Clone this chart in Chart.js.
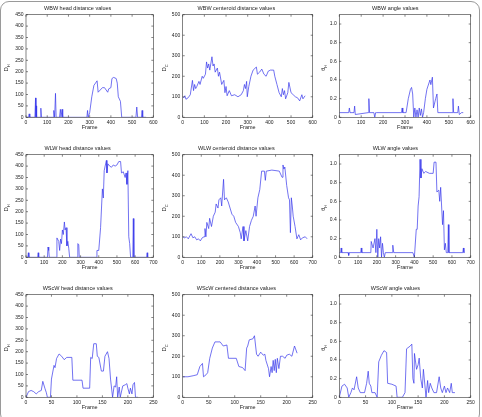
<!DOCTYPE html>
<html>
<head>
<meta charset="utf-8">
<script src="https://cdn.jsdelivr.net/npm/chart.js@4.4.1/dist/chart.umd.min.js"></script>
<style>
  body { margin: 0; background: #fff; }
  #wrap { position: relative; width: 482px; height: 417px; overflow: hidden; }
  #frame { position: absolute; left: 0; top: 1px; width: 478px; height: 420px; border: 1px solid #9a9a9a; border-radius: 9px; }
  canvas { position: absolute; }
</style>
</head>
<body>
<div id="wrap">
  <div id="frame"></div>
  <canvas id="c1" width="160" height="140" style="left:0;top:0"></canvas>
  <canvas id="c2" width="160" height="140" style="left:160px;top:0"></canvas>
  <canvas id="c3" width="162" height="140" style="left:320px;top:0"></canvas>
  <canvas id="c4" width="160" height="140" style="left:0;top:140px"></canvas>
  <canvas id="c5" width="160" height="140" style="left:160px;top:140px"></canvas>
  <canvas id="c6" width="162" height="140" style="left:320px;top:140px"></canvas>
  <canvas id="c7" width="160" height="140" style="left:0;top:280px"></canvas>
  <canvas id="c8" width="160" height="140" style="left:160px;top:280px"></canvas>
  <canvas id="c9" width="162" height="140" style="left:320px;top:280px"></canvas>
</div>
<script>
// WBW row
const wbwHeadFrames = [0, 12, 15, 18, 42, 45, 47, 48, 50, 67, 70, 73, 128, 131, 135, 139, 142, 158, 162, 165, 168, 170, 173, 287, 290, 293, 300, 310, 320, 335, 340, 345, 360, 370, 385, 390, 400, 405, 413, 425, 430, 435, 445, 451, 518, 522, 526, 544, 547, 550, 566];
const wbwHeadValues = [0, 0, 15, 0, 0, 85, 0, 50, 0, 0, 40, 0, 0, 30, 0, 105, 0, 0, 35, 0, 0, 35, 0, 0, 30, 0, 20, 90, 140, 160, 110, 115, 130, 130, 110, 125, 130, 170, 175, 170, 150, 90, 70, 0, 0, 45, 0, 0, 30, 0, 0];

const wbwCentFrames = [0, 5, 10, 15, 25, 35, 45, 50, 55, 60, 65, 75, 80, 90, 95, 105, 110, 115, 120, 125, 135, 140, 145, 150, 160, 165, 170, 180, 190, 195, 200, 205, 215, 225, 240, 255, 270, 280, 285, 290, 295, 298, 305, 315, 325, 340, 345, 355, 365, 375, 385, 395, 405, 420, 425, 435, 445, 455, 460, 465, 470, 475, 485, 490, 500, 510, 520, 530, 540, 550, 555, 565];
const wbwCentValues = [100, 95, 105, 88, 95, 110, 180, 130, 160, 140, 150, 175, 160, 200, 190, 210, 270, 240, 260, 230, 295, 250, 260, 220, 240, 200, 220, 160, 180, 120, 150, 105, 130, 105, 110, 100, 110, 130, 160, 140, 175, 100, 150, 200, 230, 245, 210, 220, 235, 210, 200, 225, 230, 230, 200, 160, 120, 100, 140, 110, 130, 90, 120, 170, 120, 110, 100, 95, 80, 110, 90, 105];

const wbwAngleFrames = [0, 43, 46, 49, 67, 70, 73, 132, 135, 138, 158, 162, 166, 170, 284, 287, 290, 305, 315, 325, 330, 335, 340, 345, 350, 355, 360, 365, 370, 375, 380, 385, 393, 400, 414, 418, 425, 430, 440, 446, 450, 516, 519, 522, 541, 544, 548, 558, 566];
const wbwAngleValues = [0.05, 0.05, 0.1, 0.05, 0.05, 0.12, 0.03, 0.05, 0.2, 0.05, 0.05, 0.0, 0.05, 0.05, 0.05, 0.1, 0.05, 0.05, 0.2, 0.3, 0.32, 0.25, 0.0, 0.1, 0.0, 0.08, 0.0, 0.1, 0.02, 0.09, 0.0, 0.05, 0.2, 0.3, 0.4, 0.35, 0.43, 0.1, 0.2, 0.25, 0.05, 0.05, 0.2, 0.05, 0.05, 0.12, 0.03, 0.05, 0.05];

// WLW row
const wlwHeadFrames = [0, 10, 13, 16, 64, 67, 70, 118, 121, 125, 128, 168, 170, 180, 185, 190, 195, 200, 205, 211, 215, 220, 225, 230, 235, 240, 282, 285, 290, 293, 388, 390, 400, 410, 420, 425, 430, 435, 442, 445, 450, 460, 470, 480, 490, 500, 510, 520, 525, 535, 545, 550, 555, 560, 565, 570, 575, 587, 590, 593, 663, 666, 669, 672];
const wlwHeadValues = [0, 0, 20, 0, 0, 20, 0, 0, 45, 30, 0, 0, 85, 70, 30, 80, 60, 120, 100, 155, 120, 130, 50, 70, 40, 0, 0, 60, 55, 0, 0, 30, 30, 130, 300, 260, 380, 400, 425, 370, 410, 400, 395, 405, 400, 405, 420, 420, 370, 375, 350, 370, 320, 380, 90, 60, 0, 0, 170, 0, 0, 20, 0, 0];

const wlwCentFrames = [0, 10, 20, 30, 45, 55, 65, 75, 85, 95, 105, 115, 120, 125, 130, 140, 145, 155, 165, 175, 180, 190, 195, 205, 210, 220, 225, 235, 245, 255, 265, 275, 285, 300, 310, 315, 325, 330, 340, 350, 360, 370, 380, 390, 395, 405, 415, 425, 440, 445, 450, 480, 520, 535, 540, 545, 550, 560, 570, 575, 580, 585, 590, 595, 605, 615, 625, 635, 645, 660, 670];
const wlwCentValues = [100, 95, 100, 90, 115, 95, 100, 85, 90, 80, 95, 100, 140, 100, 170, 140, 190, 150, 200, 220, 260, 240, 280, 290, 250, 380, 280, 290, 270, 240, 210, 200, 170, 150, 120, 90, 150, 80, 130, 80, 150, 180, 200, 250, 200, 290, 330, 420, 420, 375, 420, 425, 420, 390, 450, 430, 440, 350, 290, 280, 120, 290, 250, 200, 150, 90, 110, 85, 95, 100, 90];

const wlwAngleFrames = [0, 7, 10, 13, 47, 50, 53, 114, 117, 120, 168, 170, 180, 190, 195, 200, 205, 210, 215, 220, 225, 230, 235, 240, 245, 282, 285, 290, 392, 400, 410, 415, 420, 425, 430, 435, 440, 450, 460, 480, 500, 505, 515, 520, 530, 535, 540, 545, 550, 555, 560, 565, 570, 578, 581, 584, 658, 661, 664, 666];
const wlwAngleValues = [0.05, 0.05, 0.1, 0.05, 0.05, 0.02, 0.05, 0.05, 0.1, 0.05, 0.05, 0.17, 0.1, 0.2, 0.05, 0.3, 0.0, 0.2, 0.1, 0.22, 0.0, 0.15, 0.05, 0.0, 0.05, 0.05, 0.13, 0.05, 0.05, 0.0, 0.3, 0.3, 0.55, 0.65, 1.05, 0.85, 0.95, 0.9, 0.92, 0.9, 0.9, 1.02, 1.02, 0.7, 0.72, 0.6, 0.75, 0.55, 0.35, 0.5, 0.08, 0.15, 0.05, 0.05, 0.35, 0.05, 0.05, 0.1, 0.05, 0.05];

// WScW row
const wscwHeadFrames = [0, 5, 10, 15, 20, 25, 30, 33, 37, 40, 42, 48, 50, 55, 57, 60, 65, 70, 75, 80, 90, 92, 110, 112, 125, 127, 130, 133, 138, 140, 143, 148, 152, 155, 160, 163, 166, 170, 173, 176, 178, 180, 183, 185, 190, 195, 198, 200, 203, 205, 208, 210, 213, 215, 220];
const wscwHeadValues = [0, 25, 30, 25, 15, 25, 30, 70, 40, 20, 0, 0, 80, 140, 130, 170, 190, 180, 165, 175, 175, 75, 75, 40, 40, 175, 170, 235, 235, 180, 175, 115, 115, 180, 200, 170, 80, 0, 50, 45, 90, 0, 45, 0, 50, 55, 60, 40, 15, 40, 15, 55, 65, 0, 0];

const wscwCentFrames = [0, 10, 20, 28, 33, 38, 40, 45, 48, 52, 57, 62, 72, 78, 85, 88, 103, 108, 115, 120, 123, 125, 128, 135, 138, 142, 145, 150, 155, 158, 160, 165, 167, 170, 172, 174, 176, 178, 180, 182, 185, 188, 192, 197, 200, 205, 210, 215, 220];
const wscwCentValues = [100, 100, 105, 110, 150, 165, 100, 110, 120, 190, 240, 270, 270, 250, 255, 190, 190, 150, 145, 130, 240, 250, 280, 285, 300, 210, 200, 220, 205, 210, 180, 140, 100, 150, 120, 180, 130, 185, 120, 190, 140, 200, 200, 190, 205, 210, 200, 250, 215];

const wscwAngleFrames = [0, 5, 10, 15, 18, 22, 25, 28, 33, 36, 40, 48, 52, 55, 57, 60, 62, 68, 72, 75, 80, 85, 90, 92, 100, 108, 110, 120, 125, 128, 135, 138, 140, 142, 143, 147, 150, 152, 155, 158, 160, 165, 168, 170, 173, 176, 180, 185, 190, 193, 196, 200, 203, 206, 210, 213, 215, 220];
const wscwAngleValues = [0.0, 0.12, 0.14, 0.1, 0.0, 0.05, 0.1, 0.08, 0.22, 0.1, 0.05, 0.05, 0.15, 0.28, 0.15, 0.12, 0.05, 0.05, 0.0, 0.38, 0.45, 0.5, 0.48, 0.15, 0.14, 0.12, 0.0, 0.0, 0.05, 0.52, 0.55, 0.57, 0.2, 0.15, 0.47, 0.3, 0.35, 0.42, 0.2, 0.1, 0.3, 0.0, 0.18, 0.05, 0.15, 0.1, 0.05, 0.05, 0.22, 0.1, 0.05, 0.12, 0.05, 0.1, 0.05, 0.15, 0.05, 0.05];

const titles = [
  'WBW head distance values', 'WBW centeroid distance values', 'WBW angle values',
  'WLW head distance values', 'WLW centeroid distance values', 'WLW angle values',
  'WScW head distance values', 'WScW centered distance values', 'WScW angle values'
];

Chart.defaults.font.family = '"Liberation Sans", Arial, sans-serif';
Chart.defaults.color = '#222';

// box round the plot with inward ticks, plus the y label with a subscript
const boxPlugin = {
  id: 'box',
  afterDraw(chart, args, opts) {
    const { ctx, chartArea: a, scales } = chart;
    ctx.save();
    ctx.strokeStyle = '#333';
    ctx.lineWidth = 0.6;
    ctx.strokeRect(a.left, a.top, a.right - a.left, a.bottom - a.top);
    ctx.beginPath();
    scales.x.ticks.forEach(t => {
      const px = scales.x.getPixelForValue(t.value);
      ctx.moveTo(px, a.bottom); ctx.lineTo(px, a.bottom - 2);
      ctx.moveTo(px, a.top); ctx.lineTo(px, a.top + 2);
    });
    scales.y.ticks.forEach(t => {
      const py = scales.y.getPixelForValue(t.value);
      ctx.moveTo(a.left, py); ctx.lineTo(a.left + 2, py);
      ctx.moveTo(a.right, py); ctx.lineTo(a.right - 2, py);
    });
    ctx.stroke();

    ctx.translate(opts.labelX, (a.top + a.bottom) / 2 + 2);
    ctx.rotate(-Math.PI / 2);
    ctx.fillStyle = '#222';
    ctx.textBaseline = 'alphabetic';
    ctx.textAlign = 'left';
    ctx.font = '6px "Liberation Sans", Arial, sans-serif';
    const w1 = ctx.measureText(opts.main).width;
    ctx.font = '4px "Liberation Sans", Arial, sans-serif';
    const w2 = ctx.measureText(opts.sub).width;
    const x0 = -(w1 + w2) / 2;
    ctx.font = '6px "Liberation Sans", Arial, sans-serif';
    ctx.fillText(opts.main, x0, 0);
    ctx.font = '4px "Liberation Sans", Arial, sans-serif';
    ctx.fillText(opts.sub, x0 + w1, 1.5);
    ctx.restore();
  }
};

function makeChart(id, title, frames, values, o) {
  new Chart(document.getElementById(id), {
    type: 'line',
    data: {
      datasets: [{
        data: frames.map((f, i) => ({ x: f, y: values[i] })),
        borderColor: 'rgb(55,55,235)',
        borderWidth: 0.7,
        pointRadius: 0,
        tension: 0,
        fill: false
      }]
    },
    options: {
      responsive: false,
      animation: false,
      layout: { padding: { left: 0, right: o.padRight, top: 0, bottom: 9 } },
      plugins: {
        legend: { display: false },
        tooltip: { enabled: false },
        title: { display: true, text: title, font: { size: 5.5, weight: 'normal', lineHeight: 1 }, color: '#222', padding: { top: 6, bottom: 3.2 } },
        box: { labelX: o.labelX, main: o.main, sub: o.sub }
      },
      scales: {
        x: {
          type: 'linear', min: 0, max: o.xMax,
          ticks: { stepSize: o.xStep, font: { size: 5 }, padding: 2.5, maxRotation: 0, autoSkip: false, includeBounds: false },
          grid: { display: false, drawTicks: false },
          border: { display: false },
          title: { display: true, text: 'Frame', font: { size: 5.5 }, padding: 0 },
          afterFit(s) { s.height = 13.7; }
        },
        y: {
          min: 0, max: o.yMax,
          ticks: { stepSize: o.yStep, font: { size: 5 }, padding: 2.5, autoSkip: false, includeBounds: false },
          grid: { display: false, drawTicks: false },
          border: { display: false },
          afterFit(s) { s.width = o.plotLeft; }
        }
      }
    },
    plugins: [boxPlugin]
  });
}

const col = [
  { plotLeft: 26, padRight: 4.7, labelX: 8 },
  { plotLeft: 22.7, padRight: 7.3, labelX: 6 },
  { plotLeft: 19.3, padRight: 11.3, labelX: 5 }
];
const head = { yMax: 450, yStep: 50, main: 'D', sub: 'H' };
const cent = { yMax: 500, yStep: 100, main: 'D', sub: 'C' };
const angle = { yMax: 1.1, yStep: 0.2, main: 'θ', sub: 'H' };

makeChart('c1', titles[0], wbwHeadFrames, wbwHeadValues, { ...col[0], ...head, xMax: 600, xStep: 100 });
makeChart('c2', titles[1], wbwCentFrames, wbwCentValues, { ...col[1], ...cent, xMax: 600, xStep: 100 });
makeChart('c3', titles[2], wbwAngleFrames, wbwAngleValues, { ...col[2], ...angle, xMax: 600, xStep: 100 });
makeChart('c4', titles[3], wlwHeadFrames, wlwHeadValues, { ...col[0], ...head, xMax: 700, xStep: 100 });
makeChart('c5', titles[4], wlwCentFrames, wlwCentValues, { ...col[1], ...cent, xMax: 700, xStep: 100 });
makeChart('c6', titles[5], wlwAngleFrames, wlwAngleValues, { ...col[2], ...angle, xMax: 700, xStep: 100 });
makeChart('c7', titles[6], wscwHeadFrames, wscwHeadValues, { ...col[0], ...head, xMax: 250, xStep: 50 });
makeChart('c8', titles[7], wscwCentFrames, wscwCentValues, { ...col[1], ...cent, xMax: 250, xStep: 50 });
makeChart('c9', titles[8], wscwAngleFrames, wscwAngleValues, { ...col[2], ...angle, xMax: 250, xStep: 50 });
</script>
</body>
</html>
